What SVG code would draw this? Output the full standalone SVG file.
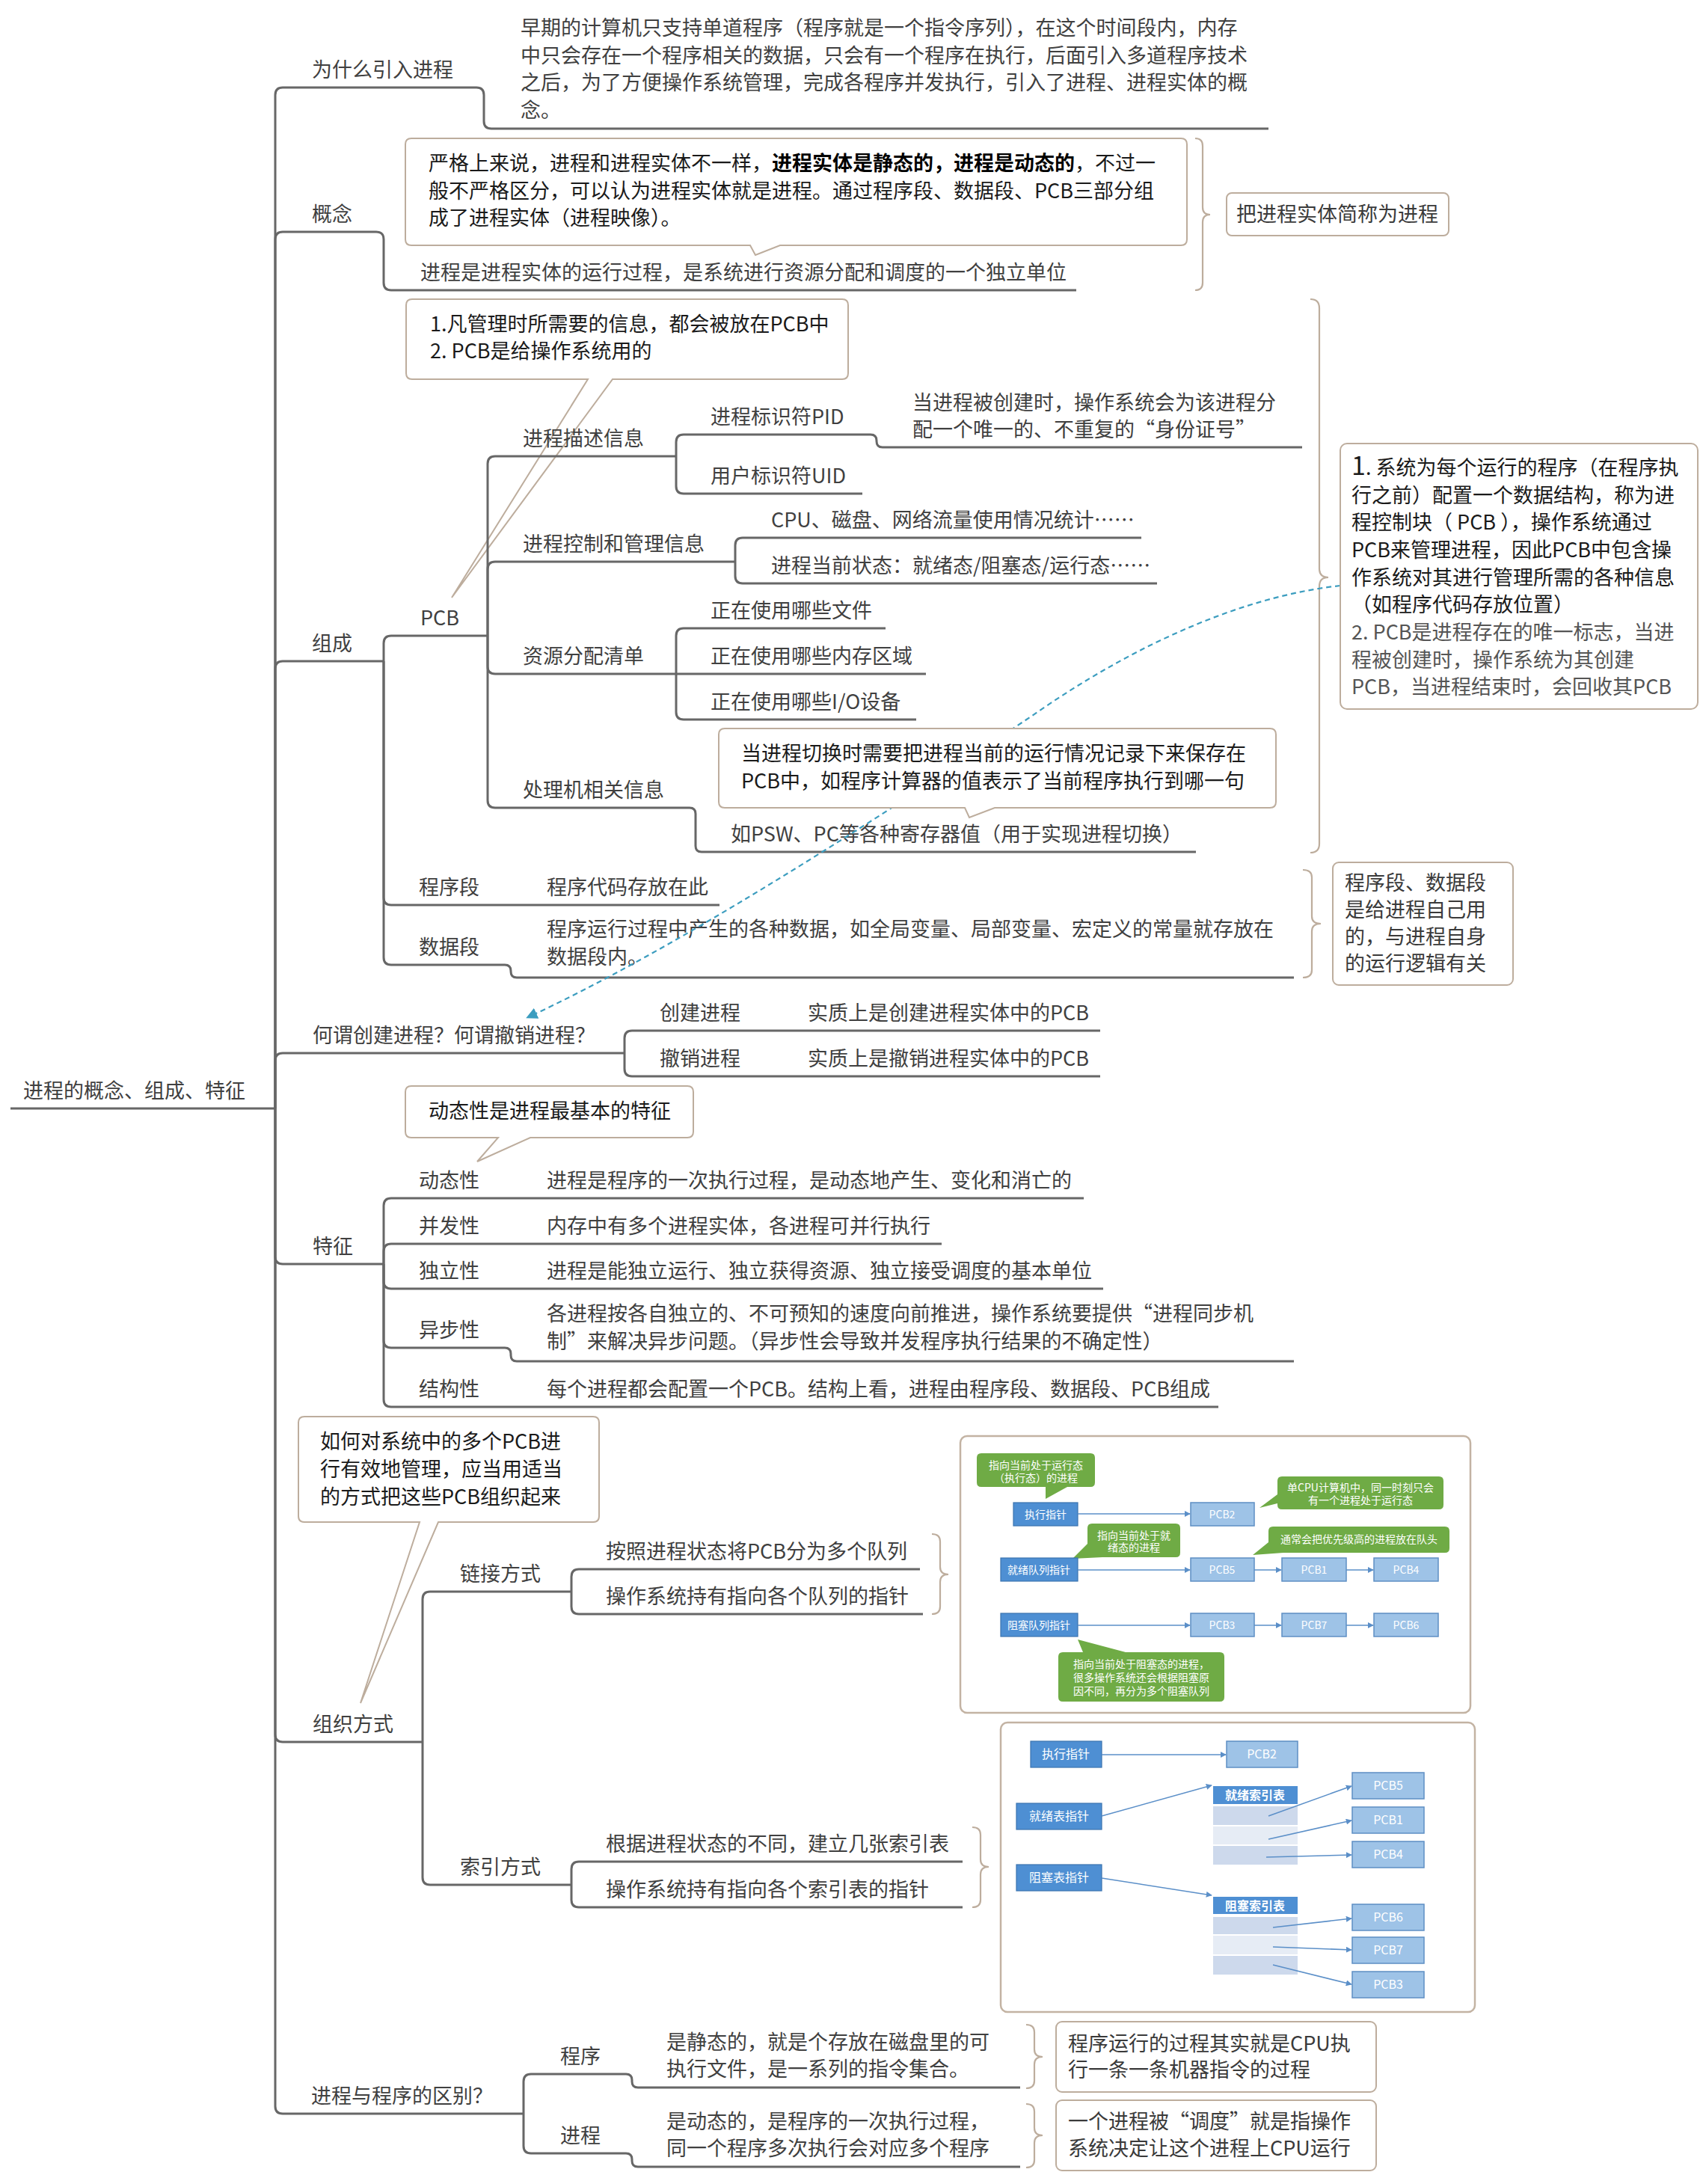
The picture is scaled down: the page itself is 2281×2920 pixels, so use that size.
<svg xmlns="http://www.w3.org/2000/svg" width="2281" height="2920" viewBox="0 0 2281 2920">
<defs>
<style>
text{font-family:"Noto Sans CJK SC","Noto Sans",sans-serif}
.t{font-size:27px;fill:#404040}
.ct{font-size:27px;fill:#1a1a1a}
.nt{font-size:27px;fill:#3a3a3a}
.ln{fill:none;stroke:#676767;stroke-width:3}
.co{fill:#fff;stroke:#bdad9d;stroke-width:2}
.br{fill:none;stroke:#bdad9d;stroke-width:2.2}
.pic{fill:#fff;stroke:#c3b3a3;stroke-width:2.5}
.dk{fill:#4e8fd3;stroke:#3b74b0;stroke-width:1.2}
.lt{fill:#9ec3e7;stroke:#5e8fc4;stroke-width:1.5}
.row1{fill:#cdd9ec}
.row2{fill:#e6ecf5}
.p1{font-size:14px;fill:#fff;text-anchor:middle}
.p2{font-size:16px;fill:#fff;text-anchor:middle}
.g{fill:#6fab45}
.ar{fill:none;stroke:#5b8fc8;stroke-width:1.6;marker-end:url(#ah)}
.dash{fill:none;stroke:#3c9dbf;stroke-width:2.2;stroke-dasharray:7 5;marker-end:url(#dh)}
</style>
<marker id="ah" viewBox="0 0 10 10" refX="9" refY="5" markerWidth="5" markerHeight="5" orient="auto"><path d="M0,0 L10,5 L0,10 z" fill="#5b8fc8"/></marker>
<marker id="dh" viewBox="0 0 10 10" refX="8" refY="5" markerWidth="7" markerHeight="7" orient="auto"><path d="M0,0 L10,5 L0,10 z" fill="#3c9dbf"/></marker>
</defs>
<rect width="2281" height="2920" fill="#fff"/>

<g id="callout-pcb">
<path class="co" d="M551,400 H1126 Q1134,400 1134,408 V499 Q1134,507 1126,507 H819 L604,799 L786,507 H551 Q543,507 543,499 V408 Q543,400 551,400 Z"/>
<text class="ct"><tspan x="575" y="443">1.凡管理时所需要的信息，都会被放在PCB中</tspan><tspan x="575" y="479">2. PCB是给操作系统用的</tspan></text>
</g>

<g id="connectors">
<path class="ln" d="M14,1482 H368"/>
<path class="ln" d="M368,1482 V127 Q368,117 378,117 H637 Q647,117 647,127 V162 Q647,172 657,172 H1696"/>
<path class="ln" d="M368,1482 V320 Q368,310 378,310 H503 Q513,310 513,320 V378 Q513,388 523,388 H1439"/>
<path class="ln" d="M368,1482 V894 Q368,884 378,884 H513"/>
<path class="ln" d="M368,1482 V1418 Q368,1408 378,1408 H835"/>
<path class="ln" d="M368,1482 V1680 Q368,1690 378,1690 H513"/>
<path class="ln" d="M368,1482 V2319 Q368,2329 378,2329 H565"/>
<path class="ln" d="M368,1482 V2816 Q368,2826 378,2826 H700"/>
<path class="ln" d="M513,884 V860 Q513,850 523,850 H652"/>
<path class="ln" d="M513,884 V1200 Q513,1210 523,1210 H962"/>
<path class="ln" d="M513,884 V1280 Q513,1290 523,1290 H675 Q683,1290 683,1298 V1299 Q683,1307 691,1307 H1730"/>
<path class="ln" d="M652,850 V620 Q652,610 662,610 H904"/>
<path class="ln" d="M652,850 V761 Q652,751 662,751 H983"/>
<path class="ln" d="M652,850 V891 Q652,901 662,901 H904"/>
<path class="ln" d="M652,850 V1070 Q652,1080 662,1080 H922 Q930,1080 930,1088 V1131 Q930,1139 938,1139 H1599"/>
<path class="ln" d="M904,610 V591 Q904,581 914,581 H1164 Q1172,581 1172,589 V590 Q1172,598 1180,598 H1741"/>
<path class="ln" d="M904,610 V650 Q904,660 914,660 H1153"/>
<path class="ln" d="M983,751 V729 Q983,719 993,719 H1526"/>
<path class="ln" d="M983,751 V770 Q983,780 993,780 H1547"/>
<path class="ln" d="M904,901 V850 Q904,840 914,840 H1184"/>
<path class="ln" d="M904,901 H1238"/>
<path class="ln" d="M904,901 V952 Q904,962 914,962 H1225"/>
<path class="ln" d="M835,1408 V1388 Q835,1378 845,1378 H1471"/>
<path class="ln" d="M835,1408 V1429 Q835,1439 845,1439 H1471"/>
<path class="ln" d="M513,1690 V1612 Q513,1602 523,1602 H1449"/>
<path class="ln" d="M513,1690 V1673 Q513,1663 523,1663 H1259"/>
<path class="ln" d="M513,1690 V1713 Q513,1723 523,1723 H1475"/>
<path class="ln" d="M513,1690 V1792 Q513,1802 523,1802 H675 Q683,1802 683,1810 V1812 Q683,1820 691,1820 H1730"/>
<path class="ln" d="M513,1690 V1871 Q513,1881 523,1881 H1629"/>
<path class="ln" d="M565,2329 V2138 Q565,2128 575,2128 H764"/>
<path class="ln" d="M565,2329 V2510 Q565,2520 575,2520 H764"/>
<path class="ln" d="M764,2128 V2108 Q764,2098 774,2098 H1230"/>
<path class="ln" d="M764,2128 V2148 Q764,2158 774,2158 H1234"/>
<path class="ln" d="M764,2520 V2499 Q764,2489 774,2489 H1287"/>
<path class="ln" d="M764,2520 V2540 Q764,2550 774,2550 H1287"/>
<path class="ln" d="M700,2826 V2783 Q700,2773 710,2773 H837 Q845,2773 845,2781 V2783 Q845,2791 853,2791 H1364"/>
<path class="ln" d="M700,2826 V2869 Q700,2879 710,2879 H837 Q845,2879 845,2887 V2889 Q845,2897 853,2897 H1364"/>
</g>

<g id="braces">
<path class="br" d="M1598,185 Q1608,185 1608,195 V277 Q1608,287 1618,287 Q1608,287 1608,297 V378 Q1608,388 1598,388"/>
<path class="br" d="M1752,400 Q1764,400 1764,412 V760 Q1764,772 1776,772 Q1764,772 1764,784 V1128 Q1764,1140 1752,1140"/>
<path class="br" d="M1742,1163 Q1754,1163 1754,1173 V1225 Q1754,1235 1766,1235 Q1754,1235 1754,1245 V1297 Q1754,1307 1742,1307"/>
<path class="br" d="M1246,2051 Q1257,2051 1257,2061 V2095 Q1257,2105 1268,2105 Q1257,2105 1257,2115 V2148 Q1257,2158 1246,2158"/>
<path class="br" d="M1300,2443 Q1311,2443 1311,2453 V2486 Q1311,2496 1322,2496 Q1311,2496 1311,2506 V2540 Q1311,2550 1300,2550"/>
<path class="br" d="M1372,2707 Q1383,2707 1383,2717 V2740 Q1383,2750 1394,2750 Q1383,2750 1383,2760 V2782 Q1383,2792 1372,2792"/>
<path class="br" d="M1372,2813 Q1383,2813 1383,2823 V2845 Q1383,2855 1394,2855 Q1383,2855 1383,2865 V2888 Q1383,2898 1372,2898"/>
</g>

<g id="root"><text class="t" x="31" y="1468">进程的概念、组成、特征</text></g>

<g id="n-why"><text class="t" x="417" y="103">为什么引入进程</text></g>
<g id="n-why-detail"><text class="t"><tspan x="696" y="47">早期的计算机只支持单道程序（程序就是一个指令序列），在这个时间段内，内存</tspan><tspan x="696" y="84">中只会存在一个程序相关的数据，只会有一个程序在执行，后面引入多道程序技术</tspan><tspan x="696" y="120">之后，为了方便操作系统管理，完成各程序并发执行，引入了进程、进程实体的概</tspan><tspan x="696" y="157">念。</tspan></text></g>

<g id="n-concept"><text class="t" x="417" y="296">概念</text></g>
<g id="n-concept-detail"><text class="t" x="562" y="374">进程是进程实体的运行过程，是系统进行资源分配和调度的一个独立单位</text></g>

<g id="n-compose"><text class="t" x="417" y="870">组成</text></g>
<g id="n-pcb"><text class="t" x="562" y="836">PCB</text></g>
<g id="n-desc"><text class="t" x="699" y="596">进程描述信息</text></g>
<g id="n-pid"><text class="t" x="950" y="567">进程标识符PID</text></g>
<g id="n-pid-detail"><text class="t"><tspan x="1220" y="548">当进程被创建时，操作系统会为该进程分</tspan><tspan x="1220" y="584">配一个唯一的、不重复的“身份证号”</tspan></text></g>
<g id="n-uid"><text class="t" x="950" y="646">用户标识符UID</text></g>
<g id="n-ctrl"><text class="t" x="699" y="737">进程控制和管理信息</text></g>
<g id="n-cpu"><text class="t" x="1031" y="705">CPU、磁盘、网络流量使用情况统计……</text></g>
<g id="n-state"><text class="t" x="1031" y="766">进程当前状态：就绪态/阻塞态/运行态……</text></g>
<g id="n-res"><text class="t" x="699" y="887">资源分配清单</text></g>
<g id="n-file"><text class="t" x="950" y="826">正在使用哪些文件</text></g>
<g id="n-mem"><text class="t" x="950" y="887">正在使用哪些内存区域</text></g>
<g id="n-io"><text class="t" x="950" y="948">正在使用哪些I/O设备</text></g>
<g id="n-cpuinfo"><text class="t" x="699" y="1066">处理机相关信息</text></g>
<g id="n-psw"><text class="t" x="977" y="1125">如PSW、PC等各种寄存器值（用于实现进程切换）</text></g>
<g id="n-code"><text class="t" x="560" y="1196">程序段</text><text class="t" x="731" y="1196">程序代码存放在此</text></g>
<g id="n-data"><text class="t" x="560" y="1276">数据段</text><text class="t"><tspan x="731" y="1252">程序运行过程中产生的各种数据，如全局变量、局部变量、宏定义的常量就存放在</tspan><tspan x="731" y="1289">数据段内。</tspan></text></g>

<g id="n-create-q"><text class="t" x="418" y="1394">何谓创建进程？何谓撤销进程？</text></g>
<g id="n-create"><text class="t" x="882" y="1364">创建进程</text><text class="t" x="1080" y="1364">实质上是创建进程实体中的PCB</text></g>
<g id="n-destroy"><text class="t" x="882" y="1425">撤销进程</text><text class="t" x="1080" y="1425">实质上是撤销进程实体中的PCB</text></g>

<g id="n-feature"><text class="t" x="418" y="1676">特征</text></g>
<g id="n-dyn"><text class="t" x="560" y="1588">动态性</text><text class="t" x="731" y="1588">进程是程序的一次执行过程，是动态地产生、变化和消亡的</text></g>
<g id="n-conc"><text class="t" x="560" y="1649">并发性</text><text class="t" x="731" y="1649">内存中有多个进程实体，各进程可并行执行</text></g>
<g id="n-indep"><text class="t" x="560" y="1709">独立性</text><text class="t" x="731" y="1709">进程是能独立运行、独立获得资源、独立接受调度的基本单位</text></g>
<g id="n-async"><text class="t" x="560" y="1788">异步性</text><text class="t"><tspan x="731" y="1766">各进程按各自独立的、不可预知的速度向前推进，操作系统要提供“进程同步机</tspan><tspan x="731" y="1803">制”来解决异步问题。（异步性会导致并发程序执行结果的不确定性）</tspan></text></g>
<g id="n-struct"><text class="t" x="560" y="1867">结构性</text><text class="t" x="731" y="1867">每个进程都会配置一个PCB。结构上看，进程由程序段、数据段、PCB组成</text></g>

<g id="n-org"><text class="t" x="418" y="2315">组织方式</text></g>
<g id="n-link"><text class="t" x="615" y="2114">链接方式</text></g>
<g id="n-link1"><text class="t" x="810" y="2084">按照进程状态将PCB分为多个队列</text></g>
<g id="n-link2"><text class="t" x="810" y="2144">操作系统持有指向各个队列的指针</text></g>
<g id="n-index"><text class="t" x="615" y="2506">索引方式</text></g>
<g id="n-index1"><text class="t" x="810" y="2475">根据进程状态的不同，建立几张索引表</text></g>
<g id="n-index2"><text class="t" x="810" y="2536">操作系统持有指向各个索引表的指针</text></g>

<g id="n-diff"><text class="t" x="416" y="2812">进程与程序的区别？</text></g>
<g id="n-prog"><text class="t" x="749" y="2759">程序</text><text class="t"><tspan x="891" y="2740">是静态的，就是个存放在磁盘里的可</tspan><tspan x="891" y="2776">执行文件，是一系列的指令集合。</tspan></text></g>
<g id="n-proc"><text class="t" x="749" y="2865">进程</text><text class="t"><tspan x="891" y="2846">是动态的，是程序的一次执行过程，</tspan><tspan x="891" y="2882">同一个程序多次执行会对应多个程序</tspan></text></g>

<path id="dash-link" class="dash" d="M1792,783 C1640,800 1490,880 1380,957 C1150,1110 900,1270 706,1360"/>

<g id="callout-concept">
<path class="co" d="M550,185 H1579 Q1587,185 1587,193 V320 Q1587,328 1579,328 H1043 L1010,341 L1003,328 H550 Q542,328 542,320 V193 Q542,185 550,185 Z"/>
<text class="ct"><tspan x="573" y="228">严格上来说，进程和进程实体不一样，</tspan><tspan font-weight="bold" fill="#000">进程实体是静态的，进程是动态的</tspan><tspan>，不过一</tspan><tspan x="573" y="265">般不严格区分，可以认为进程实体就是进程。通过程序段、数据段、PCB三部分组</tspan><tspan x="573" y="301">成了进程实体（进程映像）。</tspan></text>
</g>
<g id="note-concept">
<rect class="co" x="1640" y="258" width="297" height="57" rx="7"/>
<text class="nt" x="1653" y="296">把进程实体简称为进程</text>
</g>

<g id="note-pcb">
<rect class="co" x="1792" y="593" width="478" height="355" rx="9"/>
<text class="nt" style="fill:#1a1a1a"><tspan x="1807" y="635"><tspan font-size="34">1</tspan>. 系统为每个运行的程序（在程序执</tspan><tspan x="1807" y="672">行之前）配置一个数据结构，称为进</tspan><tspan x="1807" y="708">程控制块（ PCB ），操作系统通过</tspan><tspan x="1807" y="745">PCB来管理进程，因此PCB中包含操</tspan><tspan x="1807" y="782">作系统对其进行管理所需的各种信息</tspan><tspan x="1807" y="818">（如程序代码存放位置）</tspan></text>
<text class="nt" style="fill:#555"><tspan x="1807" y="855">2. PCB是进程存在的唯一标志，当进</tspan><tspan x="1807" y="892">程被创建时，操作系统为其创建</tspan><tspan x="1807" y="928">PCB，当进程结束时，会回收其PCB</tspan></text>
</g>

<g id="callout-cpu">
<path class="co" d="M969,974 H1698 Q1706,974 1706,982 V1072 Q1706,1080 1698,1080 H1330 L1296,1093 L1290,1080 H969 Q961,1080 961,1072 V982 Q961,974 969,974 Z"/>
<text class="ct"><tspan x="991" y="1017">当进程切换时需要把进程当前的运行情况记录下来保存在</tspan><tspan x="991" y="1054">PCB中，如程序计算器的值表示了当前程序执行到哪一句</tspan></text>
</g>

<g id="note-seg">
<rect class="co" x="1782" y="1153" width="241" height="164" rx="8"/>
<text class="nt"><tspan x="1798" y="1190">程序段、数据段</tspan><tspan x="1798" y="1226">是给进程自己用</tspan><tspan x="1798" y="1262">的，与进程自身</tspan><tspan x="1798" y="1298">的运行逻辑有关</tspan></text>
</g>

<g id="callout-dyn">
<path class="co" d="M550,1452 H919 Q927,1452 927,1460 V1513 Q927,1521 919,1521 H709 L638,1553 L666,1521 H550 Q542,1521 542,1513 V1460 Q542,1452 550,1452 Z"/>
<text class="ct" x="573" y="1495">动态性是进程最基本的特征</text>
</g>

<g id="callout-org">
<path class="co" d="M407,1894 H793 Q801,1894 801,1902 V2027 Q801,2035 793,2035 H586 L482,2277 L561,2035 H407 Q399,2035 399,2027 V1902 Q399,1894 407,1894 Z"/>
<text class="ct"><tspan x="428" y="1937">如何对系统中的多个PCB进</tspan><tspan x="428" y="1974">行有效地管理，应当用适当</tspan><tspan x="428" y="2011">的方式把这些PCB组织起来</tspan></text>
</g>

<g id="pic-link">
<rect class="pic" x="1284" y="1920" width="682" height="370" rx="9"/>
<path class="g" d="M1312,1943 H1458 Q1464,1943 1464,1949 V1982 Q1464,1988 1458,1988 H1427 L1398,2004 V1988 H1312 Q1306,1988 1306,1982 V1949 Q1306,1943 1312,1943 Z"/>
<text class="p1"><tspan x="1385" y="1964">指向当前处于运行态</tspan><tspan x="1385" y="1981">（执行态）的进程</tspan></text>
<path class="g" d="M1714,1974 H1924 Q1930,1974 1930,1980 V2012 Q1930,2018 1924,2018 H1714 Q1708,2018 1708,2012 V2010 L1684,2016 L1708,1998 V1980 Q1708,1974 1714,1974 Z"/>
<text class="p1"><tspan x="1819" y="1994">单CPU计算机中，同一时刻只会</tspan><tspan x="1819" y="2011">有一个进程处于运行态</tspan></text>
<path class="g" d="M1460,2037 H1572 Q1578,2037 1578,2043 V2076 Q1578,2082 1572,2082 H1474 L1434,2084 L1454,2064 V2043 Q1454,2037 1460,2037 Z"/>
<text class="p1"><tspan x="1516" y="2058">指向当前处于就</tspan><tspan x="1516" y="2074">绪态的进程</tspan></text>
<path class="g" d="M1702,2041 H1932 Q1938,2041 1938,2047 V2070 Q1938,2076 1932,2076 H1716 L1675,2079 L1696,2062 V2047 Q1696,2041 1702,2041 Z"/>
<text class="p1" x="1817" y="2063">通常会把优先级高的进程放在队头</text>
<path class="g" d="M1421,2209 H1448 L1441,2192 L1505,2209 H1631 Q1637,2209 1637,2215 V2269 Q1637,2275 1631,2275 H1421 Q1415,2275 1415,2269 V2215 Q1415,2209 1421,2209 Z"/>
<text class="p1"><tspan x="1526" y="2230">指向当前处于阻塞态的进程，</tspan><tspan x="1526" y="2248">很多操作系统还会根据阻塞原</tspan><tspan x="1526" y="2266">因不同，再分为多个阻塞队列</tspan></text>
<rect class="dk" x="1355" y="2009" width="86" height="31"/><text class="p1" x="1398" y="2030">执行指针</text>
<rect class="lt" x="1592" y="2009" width="85" height="31"/><text class="p1" x="1634" y="2030">PCB2</text>
<rect class="dk" x="1338" y="2083" width="103" height="31"/><text class="p1" x="1389" y="2104">就绪队列指针</text>
<rect class="lt" x="1592" y="2083" width="85" height="31"/><text class="p1" x="1634" y="2104">PCB5</text>
<rect class="lt" x="1714" y="2083" width="86" height="31"/><text class="p1" x="1757" y="2104">PCB1</text>
<rect class="lt" x="1837" y="2083" width="86" height="31"/><text class="p1" x="1880" y="2104">PCB4</text>
<rect class="dk" x="1338" y="2157" width="103" height="31"/><text class="p1" x="1389" y="2178">阻塞队列指针</text>
<rect class="lt" x="1592" y="2157" width="85" height="31"/><text class="p1" x="1634" y="2178">PCB3</text>
<rect class="lt" x="1714" y="2157" width="86" height="31"/><text class="p1" x="1757" y="2178">PCB7</text>
<rect class="lt" x="1837" y="2157" width="86" height="31"/><text class="p1" x="1880" y="2178">PCB6</text>
<path class="ar" d="M1441,2024 H1591"/>
<path class="ar" d="M1441,2099 H1591"/>
<path class="ar" d="M1677,2099 H1713"/>
<path class="ar" d="M1800,2099 H1836"/>
<path class="ar" d="M1441,2173 H1591"/>
<path class="ar" d="M1677,2173 H1713"/>
<path class="ar" d="M1800,2173 H1836"/>
</g>

<g id="pic-index">
<rect class="pic" x="1338" y="2303" width="634" height="387" rx="9"/>
<rect class="dk" x="1378" y="2328" width="95" height="35"/><text class="p2" x="1425" y="2351">执行指针</text>
<rect class="lt" x="1640" y="2328" width="95" height="35"/><text class="p2" x="1687" y="2351">PCB2</text>
<rect class="dk" x="1359" y="2411" width="114" height="35"/><text class="p2" x="1416" y="2434">就绪表指针</text>
<rect class="dk" x="1359" y="2493" width="114" height="35"/><text class="p2" x="1416" y="2516">阻塞表指针</text>
<rect class="dk" x="1622" y="2388" width="113" height="24" style="stroke:none"/><text class="p2" x="1678" y="2406" font-weight="bold">就绪索引表</text>
<rect class="row1" x="1622" y="2415" width="113" height="25"/>
<rect class="row2" x="1622" y="2442" width="113" height="24"/>
<rect class="row1" x="1622" y="2468" width="113" height="25"/>
<rect class="dk" x="1622" y="2536" width="113" height="23" style="stroke:none"/><text class="p2" x="1678" y="2554" font-weight="bold">阻塞索引表</text>
<rect class="row1" x="1622" y="2563" width="113" height="23"/>
<rect class="row2" x="1622" y="2588" width="113" height="25"/>
<rect class="row1" x="1622" y="2615" width="113" height="25"/>
<rect class="lt" x="1808" y="2370" width="96" height="35"/><text class="p2" x="1856" y="2393">PCB5</text>
<rect class="lt" x="1808" y="2416" width="96" height="35"/><text class="p2" x="1856" y="2439">PCB1</text>
<rect class="lt" x="1808" y="2462" width="96" height="35"/><text class="p2" x="1856" y="2485">PCB4</text>
<rect class="lt" x="1808" y="2546" width="96" height="35"/><text class="p2" x="1856" y="2569">PCB6</text>
<rect class="lt" x="1808" y="2590" width="96" height="35"/><text class="p2" x="1856" y="2613">PCB7</text>
<rect class="lt" x="1808" y="2636" width="96" height="35"/><text class="p2" x="1856" y="2659">PCB3</text>
<path class="ar" d="M1473,2346 H1639"/>
<path class="ar" d="M1473,2428 L1620,2387"/>
<path class="ar" d="M1473,2511 L1620,2534"/>
<path class="ar" d="M1696,2428 L1807,2388"/>
<path class="ar" d="M1696,2459 L1807,2434"/>
<path class="ar" d="M1693,2483 L1807,2480"/>
<path class="ar" d="M1702,2577 L1807,2565"/>
<path class="ar" d="M1702,2603 L1807,2607"/>
<path class="ar" d="M1702,2627 L1807,2653"/>
</g>

<g id="note-prog">
<rect class="co" x="1412" y="2703" width="428" height="94" rx="8"/>
<text class="nt"><tspan x="1428" y="2742">程序运行的过程其实就是CPU执</tspan><tspan x="1428" y="2777">行一条一条机器指令的过程</tspan></text>
</g>
<g id="note-proc">
<rect class="co" x="1412" y="2808" width="428" height="94" rx="8"/>
<text class="nt"><tspan x="1428" y="2846">一个进程被“调度”就是指操作</tspan><tspan x="1428" y="2882">系统决定让这个进程上CPU运行</tspan></text>
</g>
</svg>
